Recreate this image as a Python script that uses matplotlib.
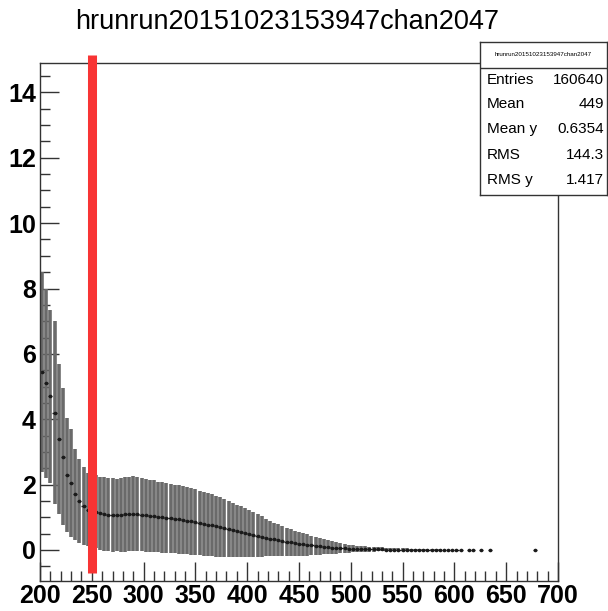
import matplotlib
matplotlib.use('Agg')
import matplotlib.pyplot as plt
import numpy as np

plt.rcParams['font.family'] = ['Liberation Sans', 'DejaVu Sans']

title = 'hrunrun20151023153947chan2047'

# profile bins (bin width 4), mean and error per bin
x_centers = [202, 206, 210, 214, 218, 222, 226, 230, 234, 238,
             242, 246, 250, 254, 258, 262, 266, 270, 274, 278,
             282, 286, 290, 294, 298, 302, 306, 310, 314, 318,
             322, 326, 330, 334, 338, 342, 346, 350, 354, 358,
             362, 366, 370, 374, 378, 382, 386, 390, 394, 398,
             402, 406, 410, 414, 418, 422, 426, 430, 434, 438,
             442, 446, 450, 454, 458, 462, 466, 470, 474, 478,
             482, 486, 490, 494, 498, 502, 506, 510, 514, 518,
             522, 526, 530, 534, 538, 542, 546, 550, 554, 558,
             562, 566, 570, 574, 578, 582, 586, 590, 594, 598,
             602, 606, 614, 618, 626, 634, 678]
means = [5.45, 5.1, 4.7, 4.2, 3.4, 2.85, 2.3, 2.05, 1.7, 1.5,
         1.34, 1.23, 1.2, 1.17, 1.12, 1.1, 1.08, 1.07, 1.06, 1.07,
         1.09, 1.1, 1.11, 1.1, 1.08, 1.06, 1.05, 1.03, 1.01, 1.0,
         0.99, 0.97, 0.95, 0.94, 0.92, 0.9, 0.88, 0.86, 0.83, 0.8,
         0.77, 0.75, 0.72, 0.7, 0.67, 0.64, 0.61, 0.58, 0.55, 0.53,
         0.5, 0.47, 0.44, 0.41, 0.38, 0.35, 0.32, 0.3, 0.27, 0.25,
         0.23, 0.21, 0.19, 0.17, 0.15, 0.14, 0.12, 0.11, 0.1, 0.08,
         0.07, 0.06, 0.06, 0.05, 0.04, 0.04, 0.03, 0.03, 0.03, 0.02,
         0.02, 0.02, 0.02, 0.01, 0.01, 0.01, 0.01, 0.01, 0.01, 0.01,
         0.01, 0.0, 0.0, 0.0, 0.0, 0.0, 0.0, 0.0, 0.0, 0.0,
         0.0, 0.0, 0.0, 0.0, 0.0, 0.0, 0.0]
errors = [3.05, 2.9, 2.65, 2.8, 2.3, 2.1, 1.75, 1.65, 1.4, 1.28,
          1.2, 1.12, 1.13, 1.12, 1.12, 1.13, 1.12, 1.13, 1.1, 1.12,
          1.14, 1.13, 1.14, 1.13, 1.12, 1.12, 1.1, 1.1, 1.08, 1.08,
          1.07, 1.06, 1.05, 1.05, 1.04, 1.02, 1.02, 1.0, 0.98, 0.97,
          0.96, 0.95, 0.93, 0.92, 0.9, 0.87, 0.84, 0.8, 0.78, 0.75,
          0.72, 0.69, 0.66, 0.62, 0.58, 0.55, 0.52, 0.5, 0.46, 0.43,
          0.41, 0.38, 0.36, 0.34, 0.33, 0.3, 0.28, 0.25, 0.23, 0.21,
          0.19, 0.17, 0.15, 0.14, 0.12, 0.11, 0.1, 0.09, 0.08, 0.07,
          0.07, 0.06, 0.06, 0.05, 0.05, 0.05, 0.04, 0.04, 0.04, 0.03,
          0.03, 0.03, 0.02, 0.02, 0.02, 0.02, 0.02, 0.01, 0.01, 0.01,
          0.01, 0.0, 0.0, 0.0, 0.0, 0.0, 0.0]
bin_half = 2.0
cut_x = 250

stat_names = ['Entries', 'Mean', 'Mean y', 'RMS', 'RMS y']
stat_values = ['160640', '449', '0.6354', '144.3', '1.417']

W, H = 608, 611
fig = plt.figure(figsize=(W / 100, H / 100), dpi=100)
ax = fig.add_axes([40 / W, 1 - 581 / H, 518 / W, 518 / H])

ax.errorbar(x_centers, means, yerr=errors, fmt='none', ecolor='#6a6a6a',
            elinewidth=2.6, capsize=0)
ax.errorbar(x_centers, means, xerr=bin_half, fmt='o', color='#1a1a1a',
            ms=1.6, elinewidth=1.0, capsize=0)

ax.plot([cut_x, cut_x], [-0.7, 15.15], color='#f83434', lw=6.5,
        solid_capstyle='butt', clip_on=False, zorder=5)

ax.set_xlim(200, 700)
ax.set_ylim(-0.95, 14.9)
ax.set_xticks(np.arange(200, 701, 50))
ax.set_xticks(np.arange(200, 701, 10), minor=True)
ax.set_yticks(np.arange(0, 15, 2))
ax.set_yticks(np.arange(-0.5, 14.9, 0.5), minor=True)
ax.tick_params(which='both', direction='in', top=False, right=False,
               labelsize=18, width=1.0, color='#333333')
ax.tick_params(which='major', length=14)
ax.tick_params(which='minor', length=7)
for lab in ax.get_xticklabels() + ax.get_yticklabels():
    lab.set_fontweight('bold')
ax.tick_params(axis='x', pad=2)
ax.tick_params(axis='y', pad=3)
for sp in ax.spines.values():
    sp.set_linewidth(1.0)
    sp.set_color('#333333')

fig.text(287 / W, 1 - 22 / H, title, ha='center', va='center', fontsize=19.5)

# stats box
bx = fig.add_axes([480 / W, 1 - 195 / H, 127 / W, 153 / H])
bx.set_xlim(0, 1)
bx.set_ylim(0, 1)
bx.set_xticks([])
bx.set_yticks([])
for sp in bx.spines.values():
    sp.set_linewidth(1.0)
    sp.set_color('#333333')
bx.axhline(1 - 26 / 153, color='#333333', lw=1.0)
bx.text(0.5, 1 - 12 / 153, title, ha='center', va='center', fontsize=4.5)
row_y = [80, 104, 129, 155, 180]
for name, val, yy in zip(stat_names, stat_values, row_y):
    bx.text(7 / 127, 1 - (yy - 42) / 153, name, ha='left', va='center', fontsize=11)
    bx.text(124 / 127, 1 - (yy - 42) / 153, val, ha='right', va='center', fontsize=11)

fig.savefig('out.png', dpi=100)
